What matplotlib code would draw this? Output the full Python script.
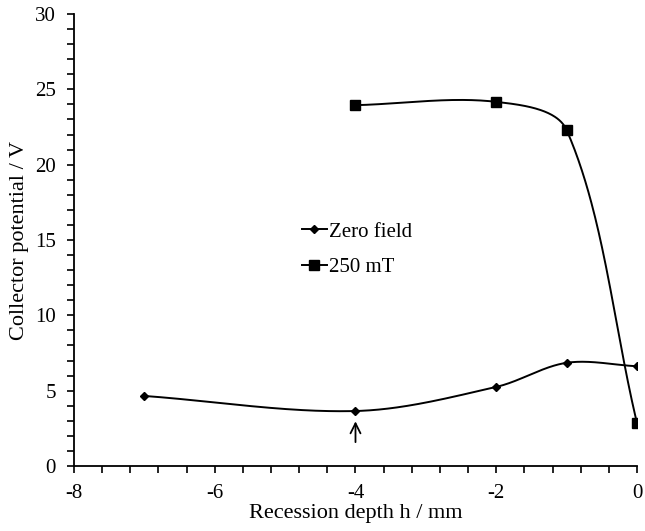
import numpy as np
import matplotlib
matplotlib.use("Agg")
import matplotlib.pyplot as plt
from matplotlib.ticker import MultipleLocator

plt.rcParams['font.family'] = ['Liberation Serif', 'DejaVu Serif']
plt.rcParams['axes.unicode_minus'] = False

x_zero = [-7, -4, -2, -1, 0]
y_zero = [4.65, 3.65, 5.25, 6.85, 6.62]
x_250 = [-4, -2, -1, 0]
y_250 = [23.95, 24.17, 22.3, 2.85]
labels = ["Zero field", "250 mT"]


def smooth(ax, xs, ys, n=80):
    # Bezier smoothing in display space, control points scaled by chord lengths
    P = ax.transData.transform(np.column_stack([xs, ys]).astype(float))
    m = len(P)
    L = np.linalg.norm(np.diff(P, axis=0), axis=1)
    cin = [None] * m
    cout = [None] * m
    for i in range(m):
        if i == 0:
            cout[i] = P[0] + (P[1] - P[0]) / 3.0
        elif i == m - 1:
            cin[i] = P[-1] - (P[-1] - P[-2]) / 3.0
        else:
            d = P[i + 1] - P[i - 1]
            s = L[i - 1] + L[i]
            cin[i] = P[i] - d * (L[i - 1] / s) / 3.0
            cout[i] = P[i] + d * (L[i] / s) / 3.0
    out = []
    t = np.linspace(0, 1, n)[:, None]
    for i in range(m - 1):
        p1, c1, c2, p2 = P[i], cout[i], cin[i + 1], P[i + 1]
        seg = ((1 - t) ** 3) * p1 + 3 * ((1 - t) ** 2) * t * c1 + 3 * (1 - t) * t ** 2 * c2 + t ** 3 * p2
        out.append(seg if i == 0 else seg[1:])
    s = ax.transData.inverted().transform(np.vstack(out))
    return s[:, 0], s[:, 1]


fig = plt.figure(figsize=(6.45, 5.31), dpi=100)
ax = fig.add_axes([0.1147, 0.1224, 0.8729, 0.8512])
ax.set_xlim(-8, 0)
ax.set_ylim(0, 30)

sx, sy = smooth(ax, x_zero, y_zero)
ax.plot(sx, sy, color='black', lw=1.4)
ax.plot(x_zero, y_zero, linestyle='none', marker='D', ms=4.5, color='black')
sx2, sy2 = smooth(ax, x_250, y_250)
ax.plot(sx2, sy2, color='black', lw=1.4)
ax.plot(x_250, y_250, linestyle='none', marker='s', ms=6.5, color='black')

h1, = ax.plot([], [], color='black', lw=1.4, marker='D', ms=4.5)
h2, = ax.plot([], [], color='black', lw=1.4, marker='s', ms=6.5)
ax.legend([h1, h2], labels, loc='center left', bbox_to_anchor=(0.468, 0.530),
          bbox_transform=fig.transFigure, frameon=False, fontsize=15,
          handlelength=1.2, handletextpad=0.1, labelspacing=0.75,
          borderpad=0, borderaxespad=0)

ax.annotate('', xy=(-4, 3.15), xytext=(-4, 1.4),
            arrowprops=dict(arrowstyle='->', color='black', lw=1.3, mutation_scale=18))

ax.xaxis.set_major_locator(MultipleLocator(2))
ax.xaxis.set_minor_locator(MultipleLocator(0.4))
ax.yaxis.set_major_locator(MultipleLocator(5))
ax.yaxis.set_minor_locator(MultipleLocator(1))
for s in ['top', 'right']:
    ax.spines[s].set_visible(False)
for s in ['left', 'bottom']:
    ax.spines[s].set_linewidth(1.3)
ax.tick_params(which='both', direction='out', length=5, width=1.2, labelsize=15)
ax.tick_params(axis='x', pad=8)
ax.tick_params(axis='y', pad=8)
ax.set_xlabel('Recession depth h / mm', fontsize=16, labelpad=1)
ax.set_ylabel('Collector potential / V', fontsize=16, labelpad=4)

fig.savefig('out.png', dpi=100)
